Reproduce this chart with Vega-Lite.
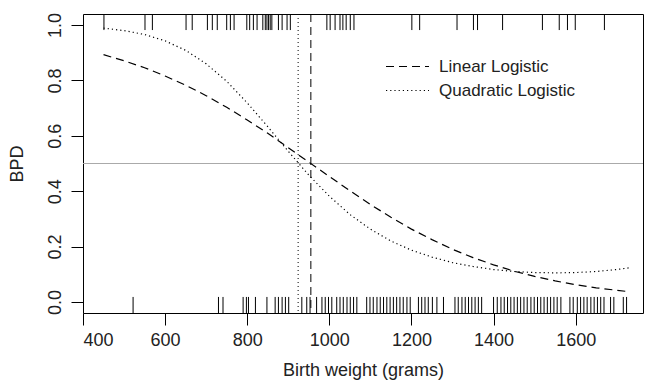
{
  "$schema": "https://vega.github.io/schema/vega-lite/v6.json",
  "width": 560,
  "height": 299,
  "autosize": {"type": "none"},
  "padding": {"left": 83, "top": 14, "right": 2, "bottom": 73},
  "background": "white",
  "config": {
    "view": {"stroke": "black", "strokeWidth": 1},
    "font": "Liberation Sans",
    "axis": {
      "domain": false, "grid": false, "tickColor": "black", "tickSize": 12,
      "labelFont": "Liberation Sans", "labelFontSize": 18, "labelColor": "#222",
      "titleFont": "Liberation Sans", "titleFontSize": 18, "titleFontWeight": "normal", "titleColor": "#222"
    }
  },
  "datasets": {
    "curves": [
      {"weight": 450, "p": 0.893, "model": "Linear Logistic"},
      {"weight": 500, "p": 0.871, "model": "Linear Logistic"},
      {"weight": 550, "p": 0.846, "model": "Linear Logistic"},
      {"weight": 600, "p": 0.816, "model": "Linear Logistic"},
      {"weight": 650, "p": 0.783, "model": "Linear Logistic"},
      {"weight": 700, "p": 0.745, "model": "Linear Logistic"},
      {"weight": 750, "p": 0.703, "model": "Linear Logistic"},
      {"weight": 800, "p": 0.657, "model": "Linear Logistic"},
      {"weight": 850, "p": 0.609, "model": "Linear Logistic"},
      {"weight": 900, "p": 0.557, "model": "Linear Logistic"},
      {"weight": 950, "p": 0.505, "model": "Linear Logistic"},
      {"weight": 1000, "p": 0.453, "model": "Linear Logistic"},
      {"weight": 1050, "p": 0.402, "model": "Linear Logistic"},
      {"weight": 1100, "p": 0.352, "model": "Linear Logistic"},
      {"weight": 1150, "p": 0.306, "model": "Linear Logistic"},
      {"weight": 1200, "p": 0.263, "model": "Linear Logistic"},
      {"weight": 1250, "p": 0.225, "model": "Linear Logistic"},
      {"weight": 1300, "p": 0.190, "model": "Linear Logistic"},
      {"weight": 1350, "p": 0.160, "model": "Linear Logistic"},
      {"weight": 1400, "p": 0.134, "model": "Linear Logistic"},
      {"weight": 1450, "p": 0.111, "model": "Linear Logistic"},
      {"weight": 1500, "p": 0.092, "model": "Linear Logistic"},
      {"weight": 1550, "p": 0.076, "model": "Linear Logistic"},
      {"weight": 1600, "p": 0.062, "model": "Linear Logistic"},
      {"weight": 1650, "p": 0.051, "model": "Linear Logistic"},
      {"weight": 1700, "p": 0.042, "model": "Linear Logistic"},
      {"weight": 1730, "p": 0.037, "model": "Linear Logistic"},
      {"weight": 450, "p": 0.989, "model": "Quadratic Logistic"},
      {"weight": 500, "p": 0.980, "model": "Quadratic Logistic"},
      {"weight": 550, "p": 0.966, "model": "Quadratic Logistic"},
      {"weight": 600, "p": 0.943, "model": "Quadratic Logistic"},
      {"weight": 650, "p": 0.909, "model": "Quadratic Logistic"},
      {"weight": 700, "p": 0.860, "model": "Quadratic Logistic"},
      {"weight": 750, "p": 0.797, "model": "Quadratic Logistic"},
      {"weight": 800, "p": 0.719, "model": "Quadratic Logistic"},
      {"weight": 850, "p": 0.633, "model": "Quadratic Logistic"},
      {"weight": 900, "p": 0.544, "model": "Quadratic Logistic"},
      {"weight": 950, "p": 0.458, "model": "Quadratic Logistic"},
      {"weight": 1000, "p": 0.382, "model": "Quadratic Logistic"},
      {"weight": 1050, "p": 0.316, "model": "Quadratic Logistic"},
      {"weight": 1100, "p": 0.263, "model": "Quadratic Logistic"},
      {"weight": 1150, "p": 0.220, "model": "Quadratic Logistic"},
      {"weight": 1200, "p": 0.187, "model": "Quadratic Logistic"},
      {"weight": 1250, "p": 0.162, "model": "Quadratic Logistic"},
      {"weight": 1300, "p": 0.142, "model": "Quadratic Logistic"},
      {"weight": 1350, "p": 0.128, "model": "Quadratic Logistic"},
      {"weight": 1400, "p": 0.117, "model": "Quadratic Logistic"},
      {"weight": 1450, "p": 0.110, "model": "Quadratic Logistic"},
      {"weight": 1500, "p": 0.106, "model": "Quadratic Logistic"},
      {"weight": 1550, "p": 0.105, "model": "Quadratic Logistic"},
      {"weight": 1600, "p": 0.106, "model": "Quadratic Logistic"},
      {"weight": 1650, "p": 0.110, "model": "Quadratic Logistic"},
      {"weight": 1700, "p": 0.117, "model": "Quadratic Logistic"},
      {"weight": 1730, "p": 0.123, "model": "Quadratic Logistic"}
    ],
    "rug1": [
      {"weight": 451}, {"weight": 551}, {"weight": 569}, {"weight": 651}, {"weight": 666},
      {"weight": 703}, {"weight": 715}, {"weight": 727}, {"weight": 750}, {"weight": 759},
      {"weight": 768}, {"weight": 799}, {"weight": 806}, {"weight": 815}, {"weight": 824},
      {"weight": 838}, {"weight": 844}, {"weight": 848}, {"weight": 852}, {"weight": 856},
      {"weight": 860}, {"weight": 876}, {"weight": 885}, {"weight": 897}, {"weight": 905},
      {"weight": 994}, {"weight": 1002}, {"weight": 1014}, {"weight": 1026}, {"weight": 1033},
      {"weight": 1041}, {"weight": 1051}, {"weight": 1060}, {"weight": 1201}, {"weight": 1220},
      {"weight": 1311}, {"weight": 1351}, {"weight": 1361}, {"weight": 1422}, {"weight": 1519},
      {"weight": 1560}, {"weight": 1580}, {"weight": 1599}, {"weight": 1670}
    ],
    "rug0": [
      {"weight": 522}, {"weight": 730}, {"weight": 741}, {"weight": 790}, {"weight": 798},
      {"weight": 803}, {"weight": 820}, {"weight": 848}, {"weight": 868}, {"weight": 876},
      {"weight": 885}, {"weight": 893}, {"weight": 901}, {"weight": 933}, {"weight": 945},
      {"weight": 953}, {"weight": 969}, {"weight": 982}, {"weight": 990}, {"weight": 998},
      {"weight": 1006}, {"weight": 1018}, {"weight": 1026}, {"weight": 1034}, {"weight": 1043},
      {"weight": 1051}, {"weight": 1059}, {"weight": 1067}, {"weight": 1091}, {"weight": 1099},
      {"weight": 1107}, {"weight": 1116}, {"weight": 1124}, {"weight": 1132}, {"weight": 1140},
      {"weight": 1148}, {"weight": 1156}, {"weight": 1164}, {"weight": 1172}, {"weight": 1180},
      {"weight": 1189}, {"weight": 1197}, {"weight": 1217}, {"weight": 1225}, {"weight": 1233},
      {"weight": 1241}, {"weight": 1251}, {"weight": 1262}, {"weight": 1278}, {"weight": 1306},
      {"weight": 1314}, {"weight": 1323}, {"weight": 1331}, {"weight": 1339}, {"weight": 1347},
      {"weight": 1355}, {"weight": 1363}, {"weight": 1371}, {"weight": 1400}, {"weight": 1409},
      {"weight": 1418}, {"weight": 1426}, {"weight": 1434}, {"weight": 1442}, {"weight": 1450},
      {"weight": 1458}, {"weight": 1466}, {"weight": 1474}, {"weight": 1482}, {"weight": 1491},
      {"weight": 1499}, {"weight": 1507}, {"weight": 1515}, {"weight": 1523}, {"weight": 1531},
      {"weight": 1539}, {"weight": 1547}, {"weight": 1555}, {"weight": 1564}, {"weight": 1586},
      {"weight": 1594}, {"weight": 1604}, {"weight": 1612}, {"weight": 1620}, {"weight": 1628},
      {"weight": 1637}, {"weight": 1645}, {"weight": 1653}, {"weight": 1661}, {"weight": 1669},
      {"weight": 1685}, {"weight": 1693}, {"weight": 1716}, {"weight": 1724}
    ]
  },
  "encoding": {
    "x": {
      "type": "quantitative",
      "scale": {"domain": [400, 1764], "nice": false, "zero": false},
      "axis": {"title": "Birth weight (grams)", "values": [400, 600, 800, 1000, 1200, 1400, 1600], "format": "d", "labelPadding": 6, "titlePadding": 12}
    },
    "y": {
      "type": "quantitative",
      "scale": {"domain": [-0.04, 1.04], "nice": false, "zero": false},
      "axis": {"title": "BPD", "values": [0, 0.2, 0.4, 0.6, 0.8, 1.0], "format": ".1f", "labelAngle": -90, "labelAlign": "center", "labelBaseline": "bottom", "labelPadding": 7, "titlePadding": 20}
    }
  },
  "layer": [
    {
      "data": {"values": [{}]},
      "mark": {"type": "rule", "color": "#aaaaaa", "strokeWidth": 1},
      "encoding": {"y": {"datum": 0.5, "type": "quantitative"}}
    },
    {
      "data": {"values": [{}]},
      "mark": {"type": "rule", "color": "black", "strokeWidth": 1, "strokeDash": [8, 5]},
      "encoding": {"x": {"datum": 955, "type": "quantitative"}}
    },
    {
      "data": {"values": [{}]},
      "mark": {"type": "rule", "color": "black", "strokeWidth": 1, "strokeDash": [1, 3]},
      "encoding": {"x": {"datum": 924, "type": "quantitative"}}
    },
    {
      "data": {"name": "rug1"},
      "mark": {"type": "rule", "color": "black", "strokeWidth": 1},
      "encoding": {
        "x": {"field": "weight", "type": "quantitative"},
        "y": {"datum": 1.04, "type": "quantitative"},
        "y2": {"datum": 0.982}
      }
    },
    {
      "data": {"name": "rug0"},
      "mark": {"type": "rule", "color": "black", "strokeWidth": 1},
      "encoding": {
        "x": {"field": "weight", "type": "quantitative"},
        "y": {"datum": -0.04, "type": "quantitative"},
        "y2": {"datum": 0.018}
      }
    },
    {
      "data": {"name": "curves"},
      "mark": {"type": "line", "color": "black", "strokeWidth": 1.2},
      "encoding": {
        "x": {"field": "weight", "type": "quantitative"},
        "y": {"field": "p", "type": "quantitative"},
        "strokeDash": {
          "field": "model", "type": "nominal",
          "scale": {"domain": ["Linear Logistic", "Quadratic Logistic"], "range": [[8, 5], [1.2, 3]]},
          "legend": {
            "title": null, "orient": "none", "legendX": 313, "legendY": 41,
            "symbolType": "M-2,0H2", "symbolSize": 462, "symbolStrokeColor": "black", "symbolStrokeWidth": 1.2,
            "labelFont": "Liberation Sans", "labelFontSize": 17, "labelColor": "#222", "labelOffset": 20, "rowPadding": 4
          }
        }
      }
    }
  ]
}
